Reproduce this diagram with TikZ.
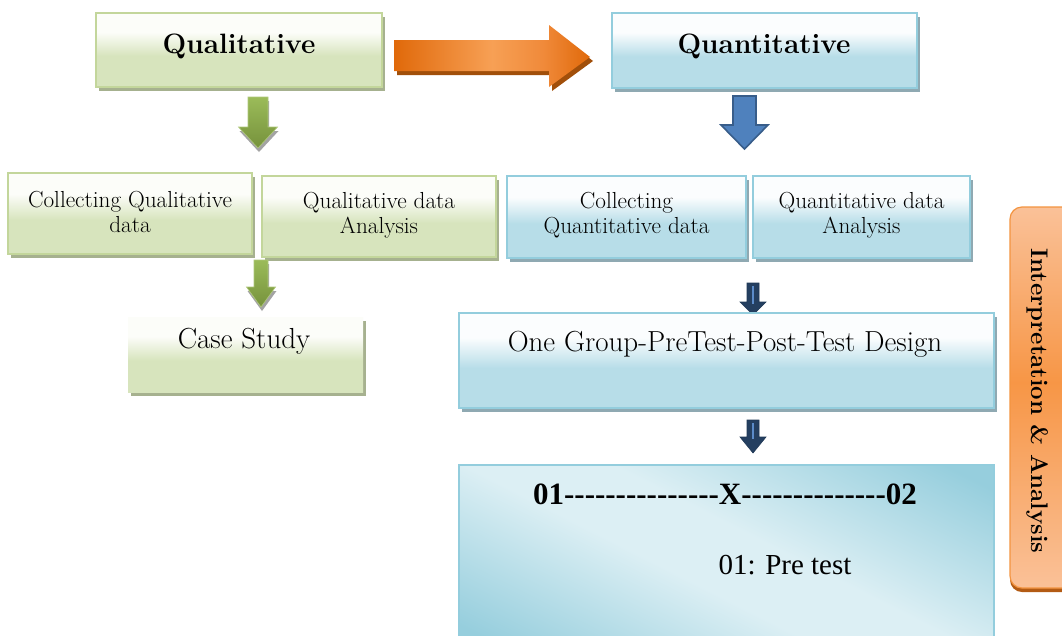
\documentclass[tikz,border=0pt]{standalone}
\usepackage{fontspec}
\newfontfamily\tms{Liberation Serif}
\usetikzlibrary{shadows}
\definecolor{gT}{HTML}{FCFDF9}
\definecolor{gB}{HTML}{D7E4BD}
\definecolor{gBorder}{HTML}{C3D69B}
\definecolor{gShadow}{HTML}{A6B18F}
\definecolor{bT}{HTML}{FBFDFE}
\definecolor{bB}{HTML}{B7DDE8}
\definecolor{bBorder}{HTML}{93CDDD}
\definecolor{bShadow}{HTML}{8FA9B2}
\definecolor{dD}{HTML}{96CEDD}
\definecolor{dL}{HTML}{DCEFF4}
\definecolor{o1}{HTML}{E0690A}
\definecolor{o2}{HTML}{F7A055}
\definecolor{o3}{HTML}{F08A3A}
\definecolor{oSh}{HTML}{A14F0A}
\definecolor{i1}{HTML}{FAC198}
\definecolor{i2}{HTML}{F79646}
\definecolor{iBorder}{HTML}{F39440}
\definecolor{iSh}{HTML}{B35B14}
\definecolor{ga1}{HTML}{9BBB59}
\definecolor{ga2}{HTML}{76923C}
\definecolor{gaSh}{HTML}{A3A3A3}
\definecolor{ba}{HTML}{4F81BD}
\definecolor{baBorder}{HTML}{385D8A}
\definecolor{na}{HTML}{243F60}
\definecolor{naStripe}{HTML}{5B8BC9}
\pgfdeclareverticalshading{gshade}{100bp}{color(0bp)=(gB); color(25bp)=(gB); color(46bp)=(gB); color(62bp)=(gT); color(100bp)=(gT)}
\pgfdeclareverticalshading{bshade}{100bp}{color(0bp)=(bB); color(25bp)=(bB); color(46bp)=(bB); color(62bp)=(bT); color(100bp)=(bT)}
\pgfdeclareverticalshading{dshade}{100bp}{color(0bp)=(dD); color(20bp)=(dD); color(44bp)=(dL); color(55bp)=(dL); color(80bp)=(dD); color(100bp)=(dD)}
\pgfdeclarehorizontalshading{oshade}{100bp}{color(0bp)=(o1); color(25bp)=(o1); color(50bp)=(o2); color(63bp)=(o3); color(75bp)=(o1); color(100bp)=(o1)}
\pgfdeclareverticalshading{ishade}{100bp}{color(0bp)=(i1); color(25bp)=(i1); color(52bp)=(i2); color(75bp)=(i1); color(100bp)=(i1)}
\pgfdeclareverticalshading{grshade}{100bp}{color(0bp)=(ga2); color(25bp)=(ga2); color(75bp)=(ga1); color(100bp)=(ga1)}
\newcommand\dnarr[6]{({#1-#5},#2) -- ({#1+#5},#2) -- ({#1+#5},#3) -- ({#1+#6},#3) -- (#1,#4) -- ({#1-#6},#3) -- ({#1-#5},#3) -- cycle}
\tikzset{
  gbox/.style={draw=gBorder, line width=1.6pt, shade, shading=gshade, inner sep=0pt, outer sep=0pt,
    general shadow={fill=gShadow, shadow xshift=3pt, shadow yshift=-4pt}},
  bbox/.style={draw=bBorder, line width=1.6pt, shade, shading=bshade, inner sep=0pt, outer sep=0pt,
    general shadow={fill=bShadow, shadow xshift=3pt, shadow yshift=-4pt}},
  txt/.style={inner sep=0pt, anchor=base, align=center},
  ttl/.style={txt, font=\bfseries\fontsize{28}{33}\selectfont},
  sml/.style={txt, font=\fontsize{23.2}{25.5}\selectfont},
  mid/.style={txt, font=\fontsize{29}{34}\selectfont},
  garrow/.style={shade, shading=grshade, draw=ga1!80!white, line width=0.6pt},
  garrowsh/.style={fill=gaSh},
  narrow/.style={fill=na, draw=na!90!black, line width=0.6pt},
  nstripe/.style={draw=naStripe, line width=1.8pt},
}
\begin{document}
\begin{tikzpicture}[x=1pt,y=-1pt]
\useasboundingbox (0,0) rectangle (1062,635);
\clip (0,0) rectangle (1062,635);
\fill[white] (0,0) rectangle (1062,635);

% top boxes
\node[gbox, minimum width=286pt, minimum height=74pt] (qual) at (239,50) {};
\node[bbox, minimum width=305pt, minimum height=75pt] (quant) at (764.5,50.5) {};
\node[ttl] (tqual) at (239,53) {Qualitative};
\node[ttl] (tquant) at (764,53) {Quantitative};

% orange arrow
\fill[oSh, shift={(3,4)}] (394,40) -- (549,40) -- (549,25) -- (590,57) -- (549,87) -- (549,71) -- (394,71) -- cycle;
\shade[shading=oshade] (394,40) -- (549,40) -- (549,25) -- (590,57) -- (549,87) -- (549,71) -- (394,71) -- cycle;

% arrows below titles
\fill[garrowsh, shift={(1,4)}] \dnarr{258}{97}{127}{148}{10}{19.5};
\path[garrow] \dnarr{258}{97}{127}{148}{10}{19.5};
\path[fill=ba, draw=baBorder, line width=1.6pt] \dnarr{744.5}{96}{125}{149}{11.5}{23.5};

% second row
\node[gbox, minimum width=244pt, minimum height=81pt] (cql) at (130,213.5) {};
\node[gbox, minimum width=234pt, minimum height=81pt] (qda) at (379,216.5) {};
\node[bbox, minimum width=239pt, minimum height=82pt] (cqn) at (626.5,217) {};
\node[bbox, minimum width=217pt, minimum height=82pt] (qnda) at (861.5,217) {};
\node[sml] (tcql) at (130,207) {\begin{tabular}[t]{@{}c@{}}Collecting Qualitative\\data\end{tabular}};
\node[sml] (tqda) at (379,208) {\begin{tabular}[t]{@{}c@{}}Qualitative data\\Analysis\end{tabular}};
\node[sml] (tcqn) at (626.5,208) {\begin{tabular}[t]{@{}c@{}}Collecting\\Quantitative data\end{tabular}};
\node[sml] (tqnda) at (861.5,208) {\begin{tabular}[t]{@{}c@{}}Quantitative data\\Analysis\end{tabular}};

% green arrow 2
\fill[garrowsh, shift={(1,4)}] \dnarr{261}{260}{287}{307}{7}{14.5};
\path[garrow] \dnarr{261}{260}{287}{307}{7}{14.5};

% case study
\node[gbox, draw=none, minimum width=235pt, minimum height=75pt] (case) at (245.5,354.5) {};
\node[mid] (tcase) at (244,348) {Case Study};

% small dark arrows
\path[narrow] \dnarr{753}{283}{302}{315}{6}{13};
\draw[nstripe] (753,286) -- (753,304);
\node[bbox, minimum width=535pt, minimum height=95pt] (oneg) at (726.5,360.5) {};
\node[mid] (toneg) at (725,351) {One Group-PreTest-Post-Test Design};
\path[narrow] \dnarr{753}{420}{437}{453}{6}{13};
\draw[nstripe] (753,423) -- (753,439);

% bottom design box
\node[draw=bBorder, line width=1.6pt, shade, shading=dshade, shading angle=-27, inner sep=0pt, minimum width=535pt, minimum height=185pt] (design) at (726.5,557.5) {};
\node[txt, font=\tms\bfseries\fontsize{31}{36}\selectfont] (tdes) at (725,504) {01---------------X--------------02};
\node[txt, font=\tms\fontsize{29}{34}\selectfont] (tpre) at (785,574) {01: Pre test};

% interpretation box
\node[draw=iBorder, line width=1.2pt, shade, shading=ishade, rounded corners=12pt, inner sep=0pt,
  minimum width=75pt, minimum height=381pt,
  general shadow={fill=iSh, shadow xshift=0pt, shadow yshift=-4pt, rounded corners=12pt}] (interp) at (1047.5,397.5) {};
\node[inner sep=0pt, rotate=-90, font=\bfseries\fontsize{24}{28}\selectfont] (tint) at (1038,401) {Interpretation \& Analysis};
\end{tikzpicture}
\end{document}
